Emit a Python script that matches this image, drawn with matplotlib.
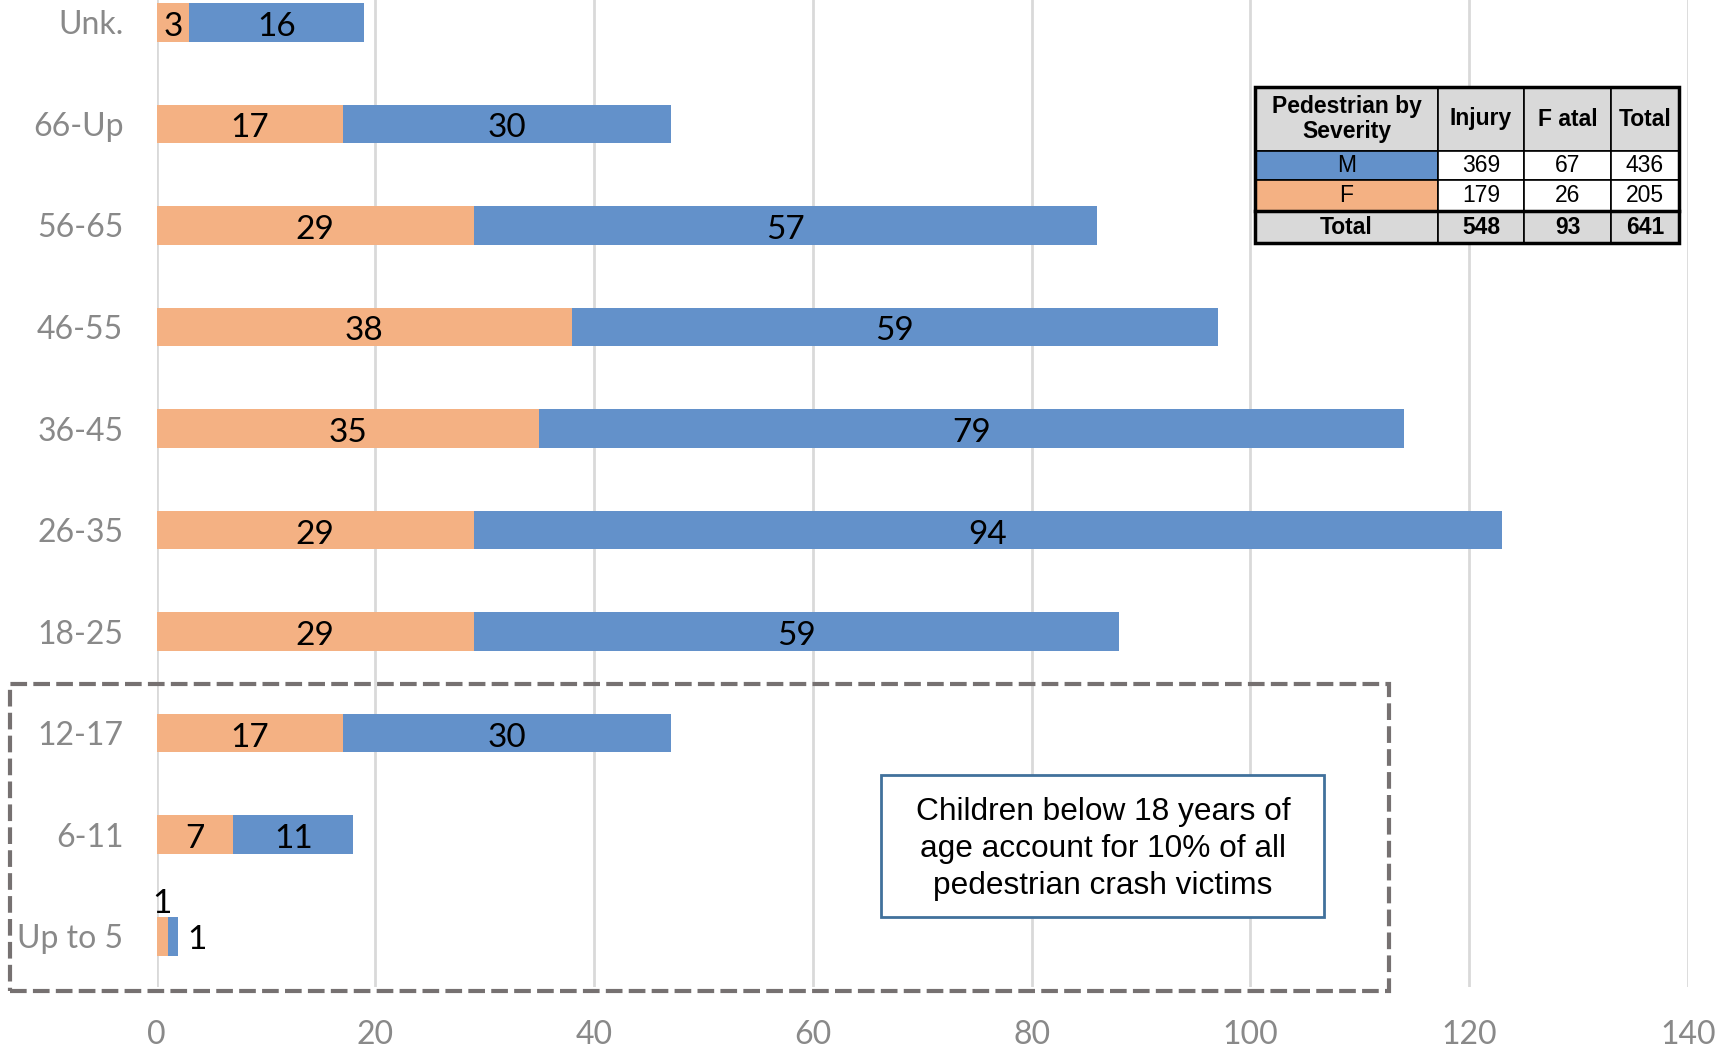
"""Pedestrian crash victims by age group and sex (stacked horizontal bars)."""

import matplotlib
matplotlib.use("Agg")
import matplotlib.pyplot as plt
from matplotlib.patches import Rectangle

# data, bottom to top
age_groups = ["Up to 5", "6-11", "12-17", "18-25", "26-35",
              "36-45", "46-55", "56-65", "66-Up", "Unk."]
female = [1, 7, 17, 29, 29, 35, 38, 29, 17, 3]
male = [1, 11, 30, 59, 94, 79, 59, 57, 30, 16]
x_ticks = [0, 20, 40, 60, 80, 100, 120, 140]

table_header = ["Pedestrian by\nSeverity", "Injury", "F atal", "Total"]
table_rows = [
    ["M", "369", "67", "436"],
    ["F", "179", "26", "205"],
    ["Total", "548", "93", "641"],
]
note = "Children below 18 years of\nage account for 10% of all\npedestrian crash victims"

ORANGE = "#F4B183"
BLUE = "#6391CA"
GRID = "#D9D9D9"
TICK = "#898989"

W, H = 1729, 1053
fig = plt.figure(figsize=(W / 100, H / 100), dpi=100)
ax = fig.add_axes([156.6 / W, 1 - 987 / H, (1688 - 156.6) / W, 987 / H])

ypos = list(range(len(age_groups)))
bar_h = 0.38
ax.barh(ypos, female, height=bar_h, color=ORANGE, zorder=3)
ax.barh(ypos, male, left=female, height=bar_h, color=BLUE, zorder=3)

lab_font = dict(family="Lato", fontsize=24, color="black")
for y, f, m in zip(ypos, female, male):
    if f + m <= 2:
        # tiny bar: Excel pushes labels outside
        ax.text(f / 2, y + 0.35, str(f), ha="center", va="center_baseline", zorder=4, **lab_font)
        ax.text(f + m + 0.8, y - 0.01, str(m), ha="left", va="center_baseline", zorder=4, **lab_font)
        continue
    ax.text(f / 2, y - 0.015, str(f), ha="center", va="center_baseline", zorder=4, **lab_font)
    ax.text(f + m / 2, y - 0.015, str(m), ha="center", va="center_baseline", zorder=4, **lab_font)

ax.set_xlim(0, 140)
ax.set_ylim(-0.5, 9.22)
ax.set_xticks(x_ticks)
ax.set_yticks(ypos)
ax.set_yticklabels(age_groups)
ax.tick_params(axis="both", length=0, labelcolor=TICK, labelsize=23)
ax.tick_params(axis="y", pad=24)
ax.tick_params(axis="x", pad=24)
for lab in ax.get_xticklabels() + ax.get_yticklabels():
    lab.set_family("Lato")
ax.grid(axis="x", color=GRID, linewidth=2, zorder=0)
ax.grid(axis="y", visible=False)
for s in ax.spines.values():
    s.set_visible(False)


def fx(px):
    return px / W


def fy(py):
    return 1 - py / H


# dashed frame around children age groups
fig.patches.append(Rectangle((fx(10), fy(991)), fx(1389) - fx(10), fy(684) - fy(991),
                             transform=fig.transFigure, fill=False, edgecolor="#767171",
                             linewidth=3, linestyle=(0, (4, 1.5)), zorder=5))

# note box
fig.patches.append(Rectangle((fx(881), fy(917)), fx(1324) - fx(881), fy(775) - fy(917),
                             transform=fig.transFigure, facecolor="white",
                             edgecolor="#41719C", linewidth=2, zorder=5))
fig.text(fx(1103), fy(849), note, ha="center", va="center", family="Liberation Sans",
         fontsize=22.8, linespacing=1.3, zorder=6)

# summary table
col_edges = [1255, 1438, 1524, 1611, 1679]
row_edges = [87, 151, 180, 211, 243]
fills = [
    ["#D9D9D9"] * 4,
    [BLUE, "white", "white", "white"],
    [ORANGE, "white", "white", "white"],
    ["#D9D9D9"] * 4,
]
cells = [table_header] + table_rows
for r in range(4):
    for c in range(4):
        x0, x1 = col_edges[c], col_edges[c + 1]
        y0, y1 = row_edges[r], row_edges[r + 1]
        fig.patches.append(Rectangle((fx(x0), fy(y1)), fx(x1) - fx(x0), fy(y0) - fy(y1),
                                     transform=fig.transFigure, facecolor=fills[r][c],
                                     edgecolor="black", linewidth=1.2, zorder=7))
        bold = r in (0, 3)
        fig.text(fx((x0 + x1) / 2), fy((y0 + y1) / 2), cells[r][c], ha="center",
                 va="center", family="Liberation Sans", fontsize=16.5,
                 fontweight="bold" if bold else "normal", linespacing=1.15, zorder=8)
# heavier outline and double line above Total
fig.patches.append(Rectangle((fx(1255), fy(243)), fx(1679) - fx(1255), fy(87) - fy(243),
                             transform=fig.transFigure, fill=False, edgecolor="black",
                             linewidth=2.5, zorder=9))
fig.add_artist(plt.Line2D([fx(1255), fx(1679)], [fy(211), fy(211)],
                          transform=fig.transFigure, color="black", linewidth=2.5, zorder=9))

fig.savefig("out.png", dpi=100)
plt.close(fig)
